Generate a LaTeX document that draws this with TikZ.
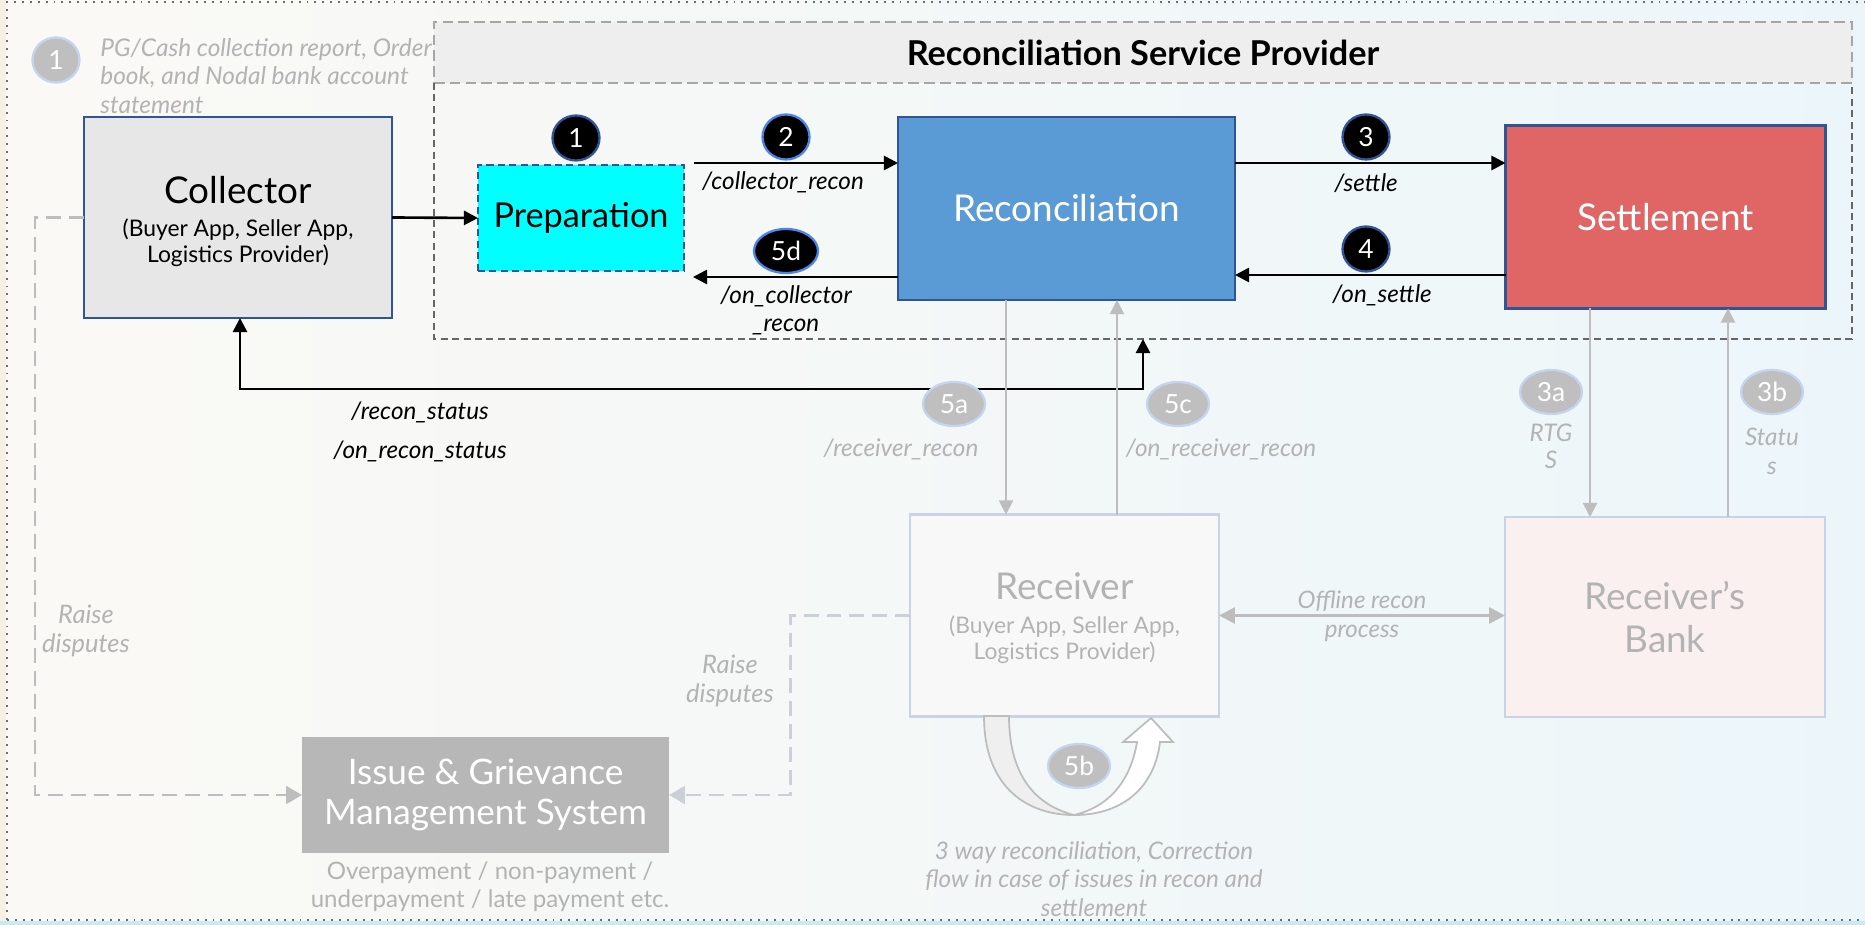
\documentclass[tikz,border=0pt]{standalone}
\usepackage{fontspec}
\setmainfont{Lato}
\usetikzlibrary{arrows.meta,shapes.geometric}
\newcommand{\pxu}{0.02cm}
\newcommand{\fsz}[2]{\fontsize{#1}{#2}\selectfont}
\definecolor{bgL}{HTML}{FBF9F5}
\definecolor{bgR}{HTML}{ECF6FA}
\definecolor{peach}{HTML}{F7EEE4}
\definecolor{cyanstrip}{HTML}{C8EAF2}
\definecolor{navy}{HTML}{2F5597}
\definecolor{brightblue}{HTML}{4A86E8}
\definecolor{collfill}{HTML}{E7E7E7}
\definecolor{prepfill}{HTML}{00FFFF}
\definecolor{reconfill}{HTML}{5B9BD5}
\definecolor{settlefill}{HTML}{E06666}
\definecolor{bandfill}{HTML}{EEEEEE}
\definecolor{bandline}{HTML}{A6A6A6}
\definecolor{bodyline}{HTML}{666666}
\definecolor{paleline}{HTML}{C9D3E6}
\definecolor{recvfill}{HTML}{F8F8F8}
\definecolor{bankfill}{HTML}{FAF0F0}
\definecolor{igmsfill}{HTML}{B7B7B7}
\definecolor{gline}{HTML}{BDBDBD}
\definecolor{gtext}{HTML}{B3B3B3}
\definecolor{gbadge}{HTML}{BFBFBF}
\definecolor{gbadgeline}{HTML}{C5D5F0}
\definecolor{dashmid}{HTML}{CBD0D8}
\definecolor{uturnfill}{HTML}{EFEFEF}
\definecolor{borderdots}{HTML}{6E6E6E}
\begin{document}
\begin{tikzpicture}[x=0.02cm,y=-0.02cm,
  boxsz/.style 2 args={rectangle, inner sep=0pt, outer sep=0pt,
    minimum width=#1*\pxu, minimum height=#2*\pxu},
  bsz/.style 2 args={minimum width=#1*\pxu, minimum height=#2*\pxu},
  badge/.style={ellipse, inner sep=0pt, text=white, font=\fsz{15}{15}, line width=1.3pt},
  blackbadge/.style={badge, fill=black, draw=navy},
  bluebadge/.style={badge, fill=black, draw=brightblue},
  greybadge/.style={badge, fill=gbadge, draw=gbadgeline},
  blk/.style={draw=black, line width=1.5pt, -{Triangle[length=8pt,width=8pt]}},
  blkboth/.style={draw=black, line width=1.5pt, {Triangle[length=8pt,width=8pt]}-{Triangle[length=8pt,width=8pt]}},
  gry/.style={draw=gline, line width=1.1pt, -{Triangle[length=8pt,width=8pt]}},
  gryboth/.style={draw=gline, line width=1.6pt, {Triangle[length=9pt,width=9pt]}-{Triangle[length=9pt,width=9pt]}},
  dshL/.style={draw=gline, line width=1.7pt, dash pattern=on 8.5pt off 4.5pt, -{Triangle[length=9pt,width=10pt]}},
  dshM/.style={draw=dashmid, line width=1.7pt, dash pattern=on 8.5pt off 4.5pt, -{Triangle[length=9pt,width=10pt]}},
  lbl/.style={font=\itshape\fsz{13.8}{16}, inner sep=0pt},
  glbl/.style={lbl, text=gtext},
  pageborder/.style={draw=borderdots, line width=1.1pt, dash pattern=on 1.1pt off 3.4pt}
]
\useasboundingbox (0,0) rectangle (1865,925);

% page background and dotted frame
\shade[left color=bgL, right color=bgR] (0,0) rectangle (1865,925);
\fill[peach] (0,0) rectangle (6,925);
\fill[cyanstrip] (0,921) rectangle (1865,925);
\draw[pageborder] (7,920) -- (7,2) -- (1865,2);
\draw[pageborder] (7,920) -- (1865,920);

% reconciliation service provider container
\node[boxsz={1418}{317}] (rsp) at (1143,180.5) {};
\node[boxsz={1418}{61}, fill=bandfill, draw=bandline, line width=1.3pt,
  dash pattern=on 6pt off 3pt, font=\bfseries\fsz{19.5}{22}] (band) at (1143,52.5)
  {Reconciliation Service Provider};
\draw[bodyline, line width=1pt, dash pattern=on 4pt off 2.5pt]
  (band.south west) -- (rsp.south west) -- (rsp.south east) -- (band.south east);

% main boxes
\node[boxsz={308}{201}, fill=collfill, draw=navy, line width=1.4pt] (collector) at (238,217.5) {};
\node[align=center, inner sep=0pt, font=\fsz{13}{14.7}] (collectortext)
  at ([yshift=-2.3pt]collector.center)
  {{\fsz{21}{21}Collector}\\[4.3pt](Buyer App, Seller App,\\Logistics Provider)};
\node[boxsz={206}{106}, fill=prepfill, draw=navy, line width=1.2pt,
  dash pattern=on 4pt off 2.5pt, font=\fsz{19.5}{22}] (prep) at (581,218) {Preparation};
\node[boxsz={337}{183}, fill=reconfill, draw=navy, line width=1.2pt, text=white,
  font=\fsz{21}{24}] (recon) at (1066.5,208.5) {Reconciliation};
\node[boxsz={320}{183}, fill=settlefill, draw=navy, line width=1.5pt, text=white,
  font=\fsz{21}{24}] (settle) at (1665.5,217) {Settlement};
\node[boxsz={309}{202}, fill=recvfill, draw=paleline, line width=1.3pt] (receiver) at (1064.5,615.5) {};
\node[align=center, inner sep=0pt, text=gtext, font=\fsz{13}{15.3}] (receivertext)
  at ([yshift=-1.5pt]receiver.center)
  {{\fsz{21}{21}Receiver}\\[4pt](Buyer App, Seller App,\\Logistics Provider)};
\node[boxsz={320}{200}, fill=bankfill, draw=paleline, line width=1.3pt, text=gtext,
  align=center, font=\fsz{21}{24.4}] (bank) at (1665,617) {Receiver’s\\Bank};
\node[boxsz={367}{116}, fill=igmsfill, text=white, align=center,
  font=\fsz{20}{23.2}] (igms) at (485.5,795) {Issue \& Grievance\\Management System};

% U-turn arrow under the receiver (step 5b)
\draw[gline, line width=1pt, fill=white]
  (1074,815) .. controls (1125,815) and (1155,785) .. (1160,742)
  -- (1173,742) -- (1151,718) -- (1123,742) -- (1137,742)
  .. controls (1130,785) and (1105,808) .. (1074,815) -- cycle;
\draw[gline, line width=1pt, fill=uturnfill]
  (984,716) .. controls (984,790) and (1030,815) .. (1074,815)
  .. controls (1035,805) and (1009,775) .. (1009,716) -- cycle;

% reference coordinates for the connectors
\coordinate (ytop) at (0,163);
\coordinate (yset) at (0,275);
\coordinate (a2s) at (694,163);
\coordinate (a5d) at (693,277);
\coordinate (rsL) at (240,389);
\coordinate (rsR) at (1143,389);
\coordinate (x5a) at (1006,0);
\coordinate (x5c) at (1117,0);
\coordinate (x3a) at (1590,0);
\coordinate (x3b) at (1728,0);
\coordinate (xl) at (35,0);
\coordinate (xm) at (790,0);

% black API calls
\draw[blk] (collector.east) -- (prep.west);
\draw[blk] (a2s) -- (a2s -| recon.west);
\draw[blk] (a5d -| recon.west) -- (a5d);
\draw[blk] (recon.east |- ytop) -- (settle.west |- ytop);
\draw[blk] (settle.west |- yset) -- (recon.east |- yset);
\draw[blkboth] (collector.south -| rsL) -- (rsL) -- (rsR) -- (rsR |- rsp.south);

% grey flows
\draw[gry] (recon.south -| x5a) -- (receiver.north -| x5a);
\draw[gry] (receiver.north -| x5c) -- (recon.south -| x5c);
\draw[gry] (settle.south -| x3a) -- (bank.north -| x3a);
\draw[gry] (bank.north -| x3b) -- (settle.south -| x3b);
\draw[gryboth] (receiver.east) -- (receiver.east -| bank.west);

% dispute routes
\draw[dshL] (collector.west) -- (collector.west -| xl) |- (igms.west);
\draw[dshM] (receiver.west) -- (receiver.west -| xm) |- (igms.east);

% step badges
\node[greybadge, bsz={47}{45}] (g1) at (56,60) {1};
\node[blackbadge, bsz={47}{45}] (b1) at (576,138) {1};
\node[bluebadge, bsz={47}{45}] (b2) at (786,137) {2};
\node[bluebadge, bsz={64}{44}] (b5d) at (786,251) {5d};
\node[blackbadge, bsz={47}{45}] (b3) at (1366,137) {3};
\node[blackbadge, bsz={47}{45}] (b4) at (1366,249) {4};
\node[greybadge, bsz={62}{44}] (g5a) at (954,404) {5a};
\node[greybadge, bsz={62}{44}] (g5c) at (1178,404) {5c};
\node[greybadge, bsz={62}{44}] (g3a) at (1551,392) {3a};
\node[greybadge, bsz={62}{44}] (g3b) at (1772,392) {3b};
\node[greybadge, bsz={62}{44}] (g5b) at (1079,766) {5b};

% labels
\node[lbl] (l2) at (783,182) {/collector\_recon};
\node[lbl, align=center, font=\itshape\fsz{13.8}{15.9}] (l5d) at (786,310) {/on\_collector\\\_recon};
\node[lbl] (l3) at (1366,183) {/settle};
\node[lbl] (l4) at (1382,295) {/on\_settle};
\node[lbl] (lrs) at (420,412) {/recon\_status};
\node[lbl] (lors) at (420,451) {/on\_recon\_status};
\node[glbl] (l5a) at (901,449) {/receiver\_recon};
\node[glbl] (l5c) at (1221,449) {/on\_receiver\_recon};
\node[glbl, align=center, font=\itshape\fsz{13.8}{15.3}] (l3a) at (1551,446) {RTG\\S};
\node[glbl, align=center, font=\itshape\fsz{13.8}{16.4}] (l3b) at (1772,451) {Statu\\s};
\node[glbl, align=center, font=\itshape\fsz{13.7}{16.4}] (loff) at (1362,616) {Offline recon\\process};
\node[glbl, align=center, font=\itshape\fsz{14.5}{16.4}] (lrd1) at (86,631) {Raise\\disputes};
\node[glbl, align=center, font=\itshape\fsz{14.5}{16.4}] (lrd2) at (730,681) {Raise\\disputes};
\node[glbl, align=center, font=\itshape\fsz{13.8}{16.2}] (l5b) at (1094,879)
  {3 way reconciliation, Correction\\flow in case of issues in recon and\\settlement};
\node[text=gtext, inner sep=0pt, align=center, font=\fsz{13.7}{15.9}] (igmsnote) at (490,887)
  {Overpayment / non-payment /\\underpayment / late payment etc.};
\node[glbl, align=left, anchor=west, font=\itshape\fsz{13.9}{16.2}] (note1) at (100,76)
  {PG/Cash collection report, Order\\book, and Nodal bank account\\statement};
\end{tikzpicture}
\end{document}
